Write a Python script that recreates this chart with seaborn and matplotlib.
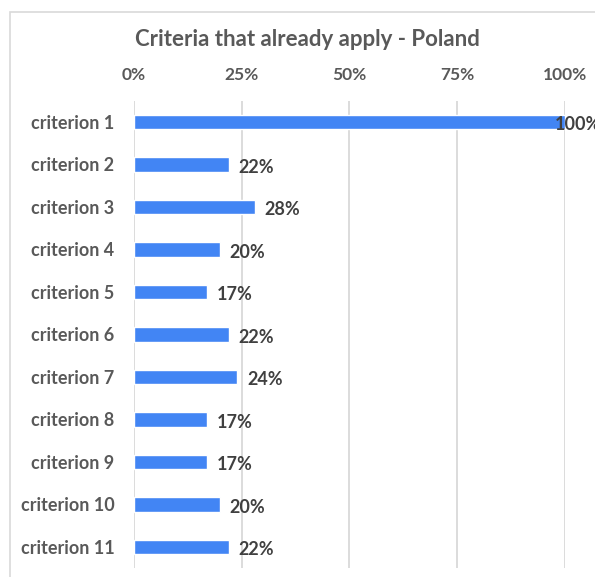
import matplotlib
matplotlib.use('Agg')
import matplotlib.pyplot as plt
import matplotlib.patches as mpatches
from matplotlib.ticker import FuncFormatter
import pandas as pd
import seaborn as sns

criteria = ['criterion 1', 'criterion 2', 'criterion 3', 'criterion 4', 'criterion 5',
            'criterion 6', 'criterion 7', 'criterion 8', 'criterion 9', 'criterion 10',
            'criterion 11']
shares = [1.00, 0.22, 0.28, 0.20, 0.17, 0.22, 0.24, 0.17, 0.17, 0.20, 0.22]
x_ticks = [0, 0.25, 0.5, 0.75, 1.0]

df = pd.DataFrame({'criterion': criteria, 'share': shares})

sns.set_theme(style='white')
plt.rcParams['font.family'] = ['Lato', 'DejaVu Sans']

fig = plt.figure(figsize=(5.95, 5.77), dpi=100)
ax = fig.add_axes([0.225, 0.0152, 0.7246, 0.8102])

sns.barplot(data=df, x='share', y='criterion', color='#4285F4', width=0.35,
            saturation=1, ax=ax)

ax.set_xlim(0, 1)
ax.set_xticks(x_ticks)
ax.xaxis.set_major_formatter(FuncFormatter(lambda v, p: f'{v:.0%}'))
ax.xaxis.tick_top()
ax.tick_params(axis='x', length=0, pad=13, labelsize=12.5, labelcolor='#595959')
ax.tick_params(axis='y', length=0, pad=14, labelsize=13, labelcolor='#595959')
for lab in ax.get_yticklabels() + ax.get_xticklabels():
    lab.set_fontweight('bold')
ax.grid(axis='x', color='#d9d9d9', linewidth=1.3)
ax.set_axisbelow(True)
for s in ax.spines.values():
    s.set_visible(False)
ax.set_xlabel('')
ax.set_ylabel('')

# value labels
for i, v in enumerate(shares):
    off = -7 if v >= 1 else 7
    ax.annotate(f'{v:.0%}', xy=(v, i), xytext=(off, -2), textcoords='offset points',
                ha='left', va='center', fontsize=13, fontweight='bold',
                color='#404040', annotation_clip=False)

fig.text(0.517, 0.931, 'Criteria that already apply - Poland', ha='center', va='center',
         fontsize=16, fontweight='bold', color='#595959')

# chart border
fig.patches.append(mpatches.Rectangle((10 / 595, -0.1), 1.2, 1 - 12 / 577 + 0.1,
                                      transform=fig.transFigure, fill=False,
                                      edgecolor='#d9d9d9', linewidth=1.2))

fig.savefig('out.png', dpi=100)
